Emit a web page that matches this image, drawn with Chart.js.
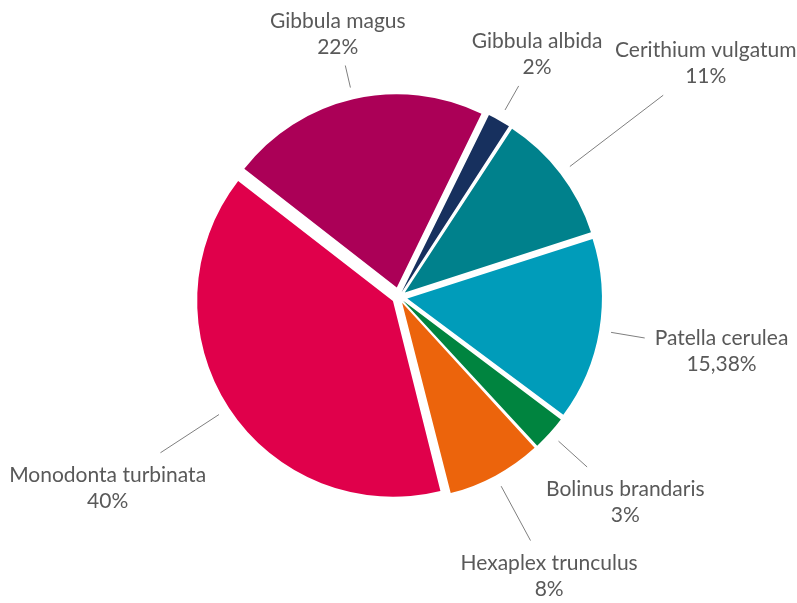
<!DOCTYPE html>
<html>
<head>
<meta charset="utf-8">
<script src="https://cdn.jsdelivr.net/npm/chart.js@4.4.0/dist/chart.umd.min.js"></script>
<style>
  html, body { margin: 0; padding: 0; background: #fff; }
  #wrap { width: 797px; height: 603px; }
</style>
</head>
<body>
<div id="wrap"><canvas id="pie" width="797" height="603"></canvas></div>
<script>
// slices, clockwise from the top
const species = ['Gibbula albida', 'Cerithium vulgatum', 'Patella cerulea', 'Bolinus brandaris',
                 'Hexaplex trunculus', 'Monodonta turbinata', 'Gibbula magus'];
const shares = [2, 11, 15.38, 3, 8, 40, 22];
const sliceColors = ['#17305e', '#00818c', '#009cba', '#00843f', '#ec640c', '#e0004b', '#ab0057'];

// how far each label block sits from the pie centre
const labelDistance = [280, 386, 327, 305, 316, 348, 271];

const sliceShift = 10;   // px every slice is pulled out of the pie
const labelFont = '21px Lato';
const labelColor = '#595959';
const leaderColor = '#7f7f7f';

function percentText(v) {
  return String(v).replace('.', ',') + '%';
}

// Chart.js moves an arc by offset/4 * (2 - sin(min(PI, sweep))),
// so work out the offset that gives the same shift to every slice
const total = shares.reduce((a, b) => a + b, 0);
const sliceOffsets = shares.map(v => {
  const sweep = 2 * Math.PI * v / total;
  return 4 * sliceShift / (2 - Math.sin(Math.min(Math.PI, sweep)));
});

// draws the two-line labels and their leader lines
const calloutLabels = {
  id: 'calloutLabels',
  afterDatasetsDraw(chart) {
    const ctx = chart.ctx;
    const meta = chart.getDatasetMeta(0);
    ctx.save();
    ctx.font = labelFont;
    meta.data.forEach((arc, i) => {
      const {x, y, startAngle, endAngle, outerRadius} =
        arc.getProps(['x', 'y', 'startAngle', 'endAngle', 'outerRadius'], true);
      const mid = (startAngle + endAngle) / 2;
      const cos = Math.cos(mid), sin = Math.sin(mid);

      const lx = x + cos * labelDistance[i];
      const ly = y + sin * labelDistance[i];
      const lines = [species[i], percentText(shares[i])];
      const w = Math.max(...lines.map(t => ctx.measureText(t).width));
      const box = { l: lx - w / 2 - 10, r: lx + w / 2 + 10, t: ly - 34.5, b: ly + 32.5 };

      // leader line: from just outside the slice toward the label, stopping at its box
      const sx = x + cos * (sliceShift + outerRadius + 12);
      const sy = y + sin * (sliceShift + outerRadius + 12);
      const dx = lx - sx, dy = ly - sy;
      let tx = -Infinity, ty = -Infinity;
      if (dx !== 0) tx = Math.min((box.l - sx) / dx, (box.r - sx) / dx);
      if (dy !== 0) ty = Math.min((box.t - sy) / dy, (box.b - sy) / dy);
      const tEnter = Math.max(tx, ty);
      if (tEnter > 0) {
        ctx.strokeStyle = leaderColor;
        ctx.lineWidth = 1;
        ctx.beginPath();
        ctx.moveTo(sx, sy);
        ctx.lineTo(sx + dx * tEnter, sy + dy * tEnter);
        ctx.stroke();
      }

      ctx.fillStyle = labelColor;
      ctx.textAlign = 'center';
      ctx.textBaseline = 'alphabetic';
      ctx.fillText(lines[0], lx, ly - 5.5);
      ctx.fillText(lines[1], lx, ly + 20.5);
    });
    ctx.restore();
  }
};

new Chart(document.getElementById('pie'), {
  type: 'pie',
  data: {
    labels: species,
    datasets: [{
      data: shares,
      backgroundColor: sliceColors,
      borderWidth: 0,
      offset: sliceOffsets,
      hoverOffset: 0
    }]
  },
  options: {
    responsive: false,
    animation: false,
    events: [],
    rotation: 26,
    radius: 193,
    layout: { padding: { left: 101, right: 100, top: 50, bottom: 59 } },
    plugins: {
      legend: { display: false },
      tooltip: { enabled: false }
    }
  },
  plugins: [calloutLabels]
});
</script>
</body>
</html>
